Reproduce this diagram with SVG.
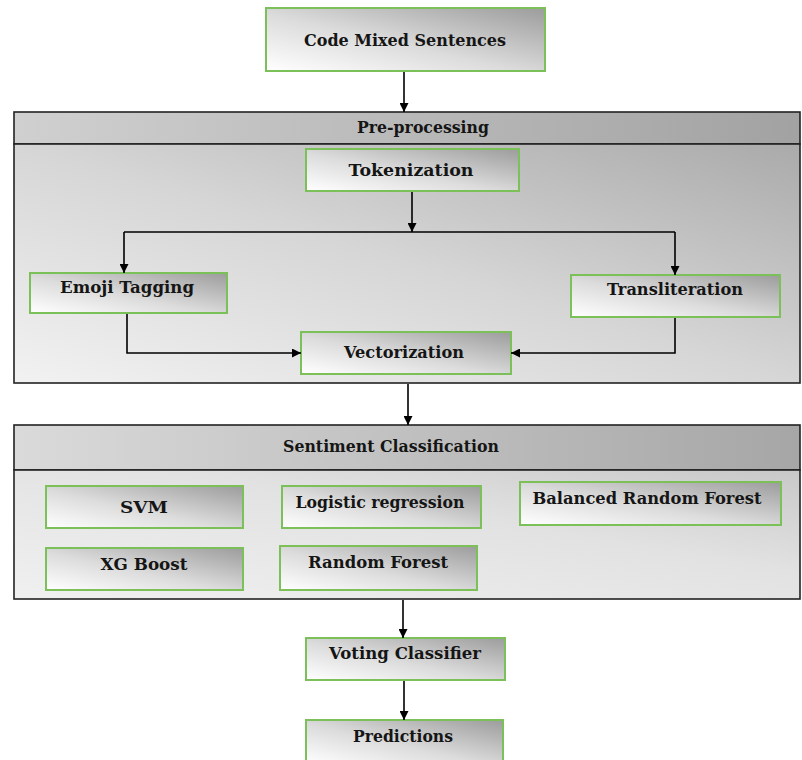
<svg xmlns="http://www.w3.org/2000/svg" width="802" height="760" viewBox="0 0 802 760">
<defs>
<linearGradient id="gBox" x1="0" y1="1" x2="1" y2="0">
<stop offset="0" stop-color="#ffffff"/>
<stop offset="0.45" stop-color="#dcdcdc"/>
<stop offset="1" stop-color="#9c9c9c"/>
</linearGradient>
<linearGradient id="gHead" x1="0" y1="0" x2="1" y2="0">
<stop offset="0" stop-color="#d0d0d0"/>
<stop offset="1" stop-color="#a2a2a2"/>
</linearGradient>
<linearGradient id="gHead2" x1="0" y1="0" x2="1" y2="0">
<stop offset="0" stop-color="#dadada"/>
<stop offset="1" stop-color="#a6a6a6"/>
</linearGradient>
<linearGradient id="gBody1" x1="0" y1="1" x2="1" y2="0">
<stop offset="0" stop-color="#f2f2f2"/>
<stop offset="0.5" stop-color="#d6d6d6"/>
<stop offset="1" stop-color="#aaaaaa"/>
</linearGradient>
<linearGradient id="gBody2" x1="0" y1="1" x2="1" y2="0">
<stop offset="0" stop-color="#f0f0f0"/>
<stop offset="0.6" stop-color="#e2e2e2"/>
<stop offset="1" stop-color="#c8c8c8"/>
</linearGradient>
<marker id="arr" viewBox="0 0 10 10" refX="10" refY="5" markerWidth="9" markerHeight="9" markerUnits="userSpaceOnUse" orient="auto">
<path d="M0,0 L10,5 L0,10 z" fill="#000"/>
</marker>
</defs>
<style>
.box{fill:url(#gBox);stroke:#7cc05a;stroke-width:2}
.frame{stroke:#222;stroke-width:1.6}
.t{font-weight:bold;font-size:17px;fill:#151515;text-anchor:middle}
.c{fill:none;stroke:#000;stroke-width:1.6;marker-end:url(#arr)}
.l{fill:none;stroke:#000;stroke-width:1.6}
</style>
<rect width="802" height="760" fill="#fff"/>

<g id="preprocessing" font-family="'DejaVu Serif', 'Liberation Serif', serif">
<rect x="14" y="112" width="786" height="32" fill="url(#gHead)" class="frame"/>
<rect x="14" y="144" width="786" height="239" fill="url(#gBody1)" class="frame"/>
<text class="t" x="423" y="133" textLength="132" lengthAdjust="spacingAndGlyphs">Pre-processing</text>
</g>

<g id="sentiment-classification" font-family="'DejaVu Serif', 'Liberation Serif', serif">
<rect x="14" y="425" width="786" height="45" fill="url(#gHead2)" class="frame"/>
<rect x="14" y="470" width="786" height="129" fill="url(#gBody2)" class="frame"/>
<text class="t" x="391" y="452" textLength="216" lengthAdjust="spacingAndGlyphs">Sentiment Classification</text>
</g>

<g id="code-mixed-sentences" font-family="'DejaVu Serif', 'Liberation Serif', serif">
<rect class="box" x="266" y="8" width="279" height="63"/>
<text class="t" x="405" y="46" textLength="202" lengthAdjust="spacingAndGlyphs">Code Mixed Sentences</text>
</g>

<g id="tokenization" font-family="'DejaVu Serif', 'Liberation Serif', serif">
<rect class="box" x="306" y="149" width="213" height="42"/>
<text class="t" x="411" y="176" textLength="125" lengthAdjust="spacingAndGlyphs">Tokenization</text>
</g>

<g id="emoji-tagging" font-family="'DejaVu Serif', 'Liberation Serif', serif">
<rect class="box" x="30" y="273" width="197" height="40"/>
<text class="t" x="127" y="293" textLength="134" lengthAdjust="spacingAndGlyphs">Emoji Tagging</text>
</g>

<g id="transliteration" font-family="'DejaVu Serif', 'Liberation Serif', serif">
<rect class="box" x="571" y="275" width="209" height="42"/>
<text class="t" x="675" y="295" textLength="136" lengthAdjust="spacingAndGlyphs">Transliteration</text>
</g>

<g id="vectorization" font-family="'DejaVu Serif', 'Liberation Serif', serif">
<rect class="box" x="301" y="332" width="210" height="42"/>
<text class="t" x="404" y="358" textLength="120" lengthAdjust="spacingAndGlyphs">Vectorization</text>
</g>

<g id="svm" font-family="'DejaVu Serif', 'Liberation Serif', serif">
<rect class="box" x="46" y="486" width="197" height="42"/>
<text class="t" x="144" y="513" textLength="48" lengthAdjust="spacingAndGlyphs">SVM</text>
</g>

<g id="logistic-regression" font-family="'DejaVu Serif', 'Liberation Serif', serif">
<rect class="box" x="282" y="486" width="199" height="42"/>
<text class="t" x="380" y="508" textLength="169" lengthAdjust="spacingAndGlyphs">Logistic regression</text>
</g>

<g id="balanced-random-forest" font-family="'DejaVu Serif', 'Liberation Serif', serif">
<rect class="box" x="520" y="482" width="261" height="43"/>
<text class="t" x="647" y="504" textLength="229" lengthAdjust="spacingAndGlyphs">Balanced Random Forest</text>
</g>

<g id="xg-boost" font-family="'DejaVu Serif', 'Liberation Serif', serif">
<rect class="box" x="46" y="548" width="197" height="42"/>
<text class="t" x="144" y="570" textLength="87" lengthAdjust="spacingAndGlyphs">XG Boost</text>
</g>

<g id="random-forest" font-family="'DejaVu Serif', 'Liberation Serif', serif">
<rect class="box" x="280" y="546" width="197" height="44"/>
<text class="t" x="378" y="568" textLength="140" lengthAdjust="spacingAndGlyphs">Random Forest</text>
</g>

<g id="voting-classifier" font-family="'DejaVu Serif', 'Liberation Serif', serif">
<rect class="box" x="306" y="638" width="199" height="42"/>
<text class="t" x="405" y="659" textLength="152" lengthAdjust="spacingAndGlyphs">Voting Classifier</text>
</g>

<g id="predictions" font-family="'DejaVu Serif', 'Liberation Serif', serif">
<rect class="box" x="306" y="720" width="197" height="44"/>
<text class="t" x="403" y="742" textLength="100" lengthAdjust="spacingAndGlyphs">Predictions</text>
</g>

<g id="connectors">
<path class="c" d="M404,72 V112"/>
<path class="c" d="M412,192 V232"/>
<path class="l" d="M124,232 H675"/>
<path class="c" d="M124,232 V273"/>
<path class="c" d="M675,232 V275"/>
<path class="c" d="M127,314 V353 H301"/>
<path class="c" d="M675,318 V353 H511"/>
<path class="c" d="M408,384 V425"/>
<path class="c" d="M403,600 V638"/>
<path class="c" d="M404,681 V720"/>
</g>
</svg>
